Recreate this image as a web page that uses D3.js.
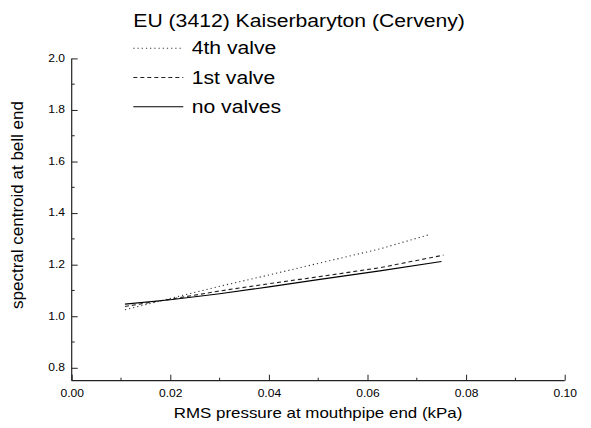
<!DOCTYPE html>
<html>
<head>
<meta charset="utf-8">
<script src="https://d3js.org/d3.v7.min.js"></script>
<style>
  body { margin: 0; background: #fff; }
  text { font-family: 'Liberation Sans', Arial, sans-serif; fill: #000; }
</style>
</head>
<body>
<div id="chart"></div>
<script>
// data
const pressureFourth = [0.0108, 0.02, 0.03, 0.04, 0.05, 0.0625, 0.0728];
const centroidFourth = [1.025, 1.069, 1.116, 1.160, 1.205, 1.261, 1.318];

const pressureFirst = [0.0108, 0.02, 0.03, 0.04, 0.05, 0.0625, 0.0754];
const centroidFirst = [1.038, 1.066, 1.098, 1.126, 1.153, 1.188, 1.237];

const pressureNone = [0.0108, 0.02, 0.03, 0.04, 0.05, 0.0625, 0.075];
const centroidNone = [1.047, 1.064, 1.087, 1.114, 1.142, 1.176, 1.212];

const seriesNames = ['4th valve', '1st valve', 'no valves'];
const xTicks = [0, 0.02, 0.04, 0.06, 0.08, 0.10];
const xMinorTicks = [0.01, 0.03, 0.05, 0.07, 0.09];
const yTicks = [0.8, 1.0, 1.2, 1.4, 1.6, 1.8, 2.0];
const yMinorTicks = [0.9, 1.1, 1.3, 1.5, 1.7, 1.9];

const title = 'EU (3412) Kaiserbaryton (Cerveny)';
const xAxisLabel = 'RMS pressure at mouthpipe end (kPa)';
const yAxisLabel = 'spectral centroid at bell end';

const W = 591, H = 428;
const stretch = 1.21; // the picture's text is a bit wider than tall

const x = d3.scaleLinear().domain([0, 0.1]).range([71.7, 564.7]);
const y = d3.scaleLinear().domain([0.75, 2.0]).range([380.7, 58.4]);

const svg = d3.select('#chart').append('svg')
    .attr('width', W).attr('height', H);

const series = [
    { name: seriesNames[0], xs: pressureFourth, ys: centroidFourth, dash: '1.2,3', color: '#333' },
    { name: seriesNames[1], xs: pressureFirst, ys: centroidFirst, dash: '4,3', color: '#222' },
    { name: seriesNames[2], xs: pressureNone, ys: centroidNone, dash: null, color: '#000' }
];

// axes
const xAxisG = svg.append('g')
    .attr('transform', 'translate(0,' + y.range()[0] + ')')
    .call(d3.axisBottom(x).tickValues(xTicks).tickSize(-6).tickPadding(10)
        .tickFormat(d3.format('.2f')));
xAxisG.selectAll('.tick line').attr('stroke', '#222');
xAxisG.selectAll('.tick text')
    .attr('font-size', 10).attr('dy', 0).attr('y', 16.6)
    .attr('transform', 'scale(' + stretch + ',1)');
xAxisG.select('.domain').attr('d', 'M' + x.range()[0] + ',0H' + x.range()[1]).attr('stroke', '#222').attr('stroke-width', 1.2);

xAxisG.selectAll('.minor').data(xMinorTicks).enter().append('line')
    .attr('class', 'minor')
    .attr('x1', d => x(d)).attr('x2', d => x(d))
    .attr('y1', 0).attr('y2', -3)
    .attr('stroke', '#222');

const yAxisG = svg.append('g')
    .attr('transform', 'translate(' + x.range()[0] + ',0)')
    .call(d3.axisLeft(y).tickValues(yTicks).tickSize(-6).tickPadding(5.5)
        .tickFormat(d3.format('.1f')));
yAxisG.selectAll('.tick line').attr('stroke', '#222');
yAxisG.selectAll('.tick text')
    .attr('font-size', 10).attr('dy', '0.28em')
    .attr('transform', 'scale(' + stretch + ',1)');
yAxisG.select('.domain').attr('d', 'M0,' + y.range()[0] + 'V' + y.range()[1]).attr('stroke', '#222').attr('stroke-width', 1.2);

yAxisG.selectAll('.minor').data(yMinorTicks).enter().append('line')
    .attr('class', 'minor')
    .attr('y1', d => y(d)).attr('y2', d => y(d))
    .attr('x1', 0).attr('x2', 3)
    .attr('stroke', '#222');

// axis titles
svg.append('text')
    .attr('transform', 'translate(' + 318 + ',418) scale(' + stretch + ',1)')
    .attr('text-anchor', 'middle')
    .attr('font-size', 14)
    .text(xAxisLabel);

svg.append('text')
    .attr('transform', 'translate(23,205) rotate(-90)')
    .attr('text-anchor', 'middle')
    .attr('font-size', 17)
    .text(yAxisLabel);

// lines
const line = d3.line()
    .x(d => x(d[0]))
    .y(d => y(d[1]));

svg.append('g').selectAll('path')
    .data(series)
    .enter().append('path')
    .attr('d', s => line(s.xs.map((v, i) => [v, s.ys[i]])))
    .attr('fill', 'none')
    .attr('stroke', s => s.color)
    .attr('stroke-width', 1.1)
    .attr('stroke-dasharray', s => s.dash);

// title and legend
svg.append('text')
    .attr('transform', 'translate(133.3,27.3) scale(' + stretch + ',1)')
    .attr('font-size', 17.5)
    .text(title);

const legendY = d3.scalePoint().domain(seriesNames).range([48.3, 106.7]);

const legend = svg.append('g').selectAll('g')
    .data(series)
    .enter().append('g')
    .attr('transform', s => 'translate(0,' + legendY(s.name) + ')');

legend.append('line')
    .attr('x1', 133.3).attr('x2', 183.3)
    .attr('stroke', s => s.color)
    .attr('stroke-width', 1.1)
    .attr('stroke-dasharray', s => s.dash);

legend.append('text')
    .attr('transform', 'translate(191.7,6) scale(' + stretch + ',1)')
    .attr('font-size', 17.5)
    .text(s => s.name);
</script>
</body>
</html>
